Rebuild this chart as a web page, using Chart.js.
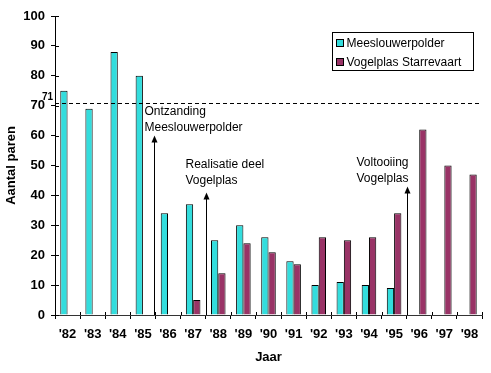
<!DOCTYPE html>
<html>
<head>
<meta charset="utf-8">
<script src="https://cdn.jsdelivr.net/npm/chart.js@4"></script>
<style>
  html, body { margin: 0; padding: 0; background: #fff; }
  #wrap { width: 491px; height: 373px; }
</style>
</head>
<body>
<div id="wrap"><canvas id="c" width="491" height="373"></canvas></div>
<script>
// ---- data ----
const years = ["'82","'83","'84","'85","'86","'87","'88","'89","'90","'91","'92","'93","'94","'95","'96","'97","'98"];
const meeslouwerpolder = [75, 69, 88, 80, 34, 37, 25, 30, 26, 18, 10, 11, 10, 9, null, null, null];
const vogelplas = [null, null, null, null, null, 5, 14, 24, 21, 17, 26, 25, 26, 34, 62, 50, 47];
const seriesNames = ['Meeslouwerpolder', 'Vogelplas Starrevaart'];
const yTicks = [0, 10, 20, 30, 40, 50, 60, 70, 80, 90, 100];
const refValue = 71;
const annotationText = [['Ontzanding', 'Meeslouwerpolder'], ['Realisatie deel', 'Vogelplas'], ['Voltooiing', 'Vogelplas']];
const arrowAt = [3.45, 5.5, 13.5];     // category position (between years)
const arrowTip = [60, 41, 43];         // value where arrow ends
const textAt = [67, 49, 50];           // value of first text baseline

const FONT = "'Liberation Sans', Arial, sans-serif";
const CYAN = '#33DDDD';
const PURPLE = '#993366';

const textDX = [-10, -21, -51];

const extras = {
  id: 'extras',
  afterDraw(chart) {
    const ctx = chart.ctx;
    const x = chart.scales.x, y = chart.scales.y;
    const ca = chart.chartArea;
    ctx.save();
    // inner halves of crossing ticks
    ctx.strokeStyle = '#000';
    ctx.lineWidth = 1;
    ctx.beginPath();
    yTicks.forEach(v => {
      const py = Math.round(y.getPixelForValue(v)) + 0.5;
      ctx.moveTo(ca.left, py); ctx.lineTo(ca.left + 4, py);
    });
    for (let i = 0; i <= years.length; i++) {
      const px = Math.round(x.getPixelForValue(i - 0.5)) + 0.5;
      ctx.moveTo(px, ca.bottom); ctx.lineTo(px, ca.bottom - 3);
    }
    ctx.stroke();

    // reference line
    const ry = Math.round(y.getPixelForValue(refValue)) + 0.5;
    ctx.setLineDash([4, 3]);
    ctx.beginPath();
    ctx.moveTo(ca.left, ry); ctx.lineTo(ca.right, ry);
    ctx.stroke();
    ctx.setLineDash([]);
    ctx.fillStyle = '#000';
    ctx.font = 'bold 10px ' + FONT;
    ctx.textAlign = 'right';
    ctx.textBaseline = 'alphabetic';
    ctx.fillText(String(refValue), ca.left - 2, ry - 4);

    // arrows + annotation texts
    ctx.font = '12px ' + FONT;
    ctx.textAlign = 'left';
    for (let i = 0; i < arrowAt.length; i++) {
      const ax = Math.round(x.getPixelForValue(arrowAt[i])) + 0.5;
      const top = y.getPixelForValue(arrowTip[i]);
      ctx.beginPath();
      ctx.moveTo(ax, ca.bottom); ctx.lineTo(ax, top + 5);
      ctx.stroke();
      ctx.beginPath();
      ctx.moveTo(ax, top); ctx.lineTo(ax - 3, top + 7); ctx.lineTo(ax + 3, top + 7); ctx.closePath();
      ctx.fill();
      const ty = y.getPixelForValue(textAt[i]);
      annotationText[i].forEach((line, k) => {
        ctx.fillText(line, ax + textDX[i], ty + k * 16);
      });
    }

    // legend box
    const bx = 332.5, by = 32.5, bw = 141, bh = 38;
    ctx.strokeStyle = '#000';
    ctx.strokeRect(bx, by, bw, bh);
    chart.data.datasets.forEach((ds, k) => {
      const cy = by + 11 + k * 19;
      ctx.fillStyle = ds.backgroundColor;
      ctx.fillRect(bx + 4, cy - 4, 7, 7);
      ctx.strokeRect(bx + 4, cy - 4, 7, 7);
      ctx.fillStyle = '#000';
      ctx.font = '12px ' + FONT;
      ctx.textBaseline = 'middle';
      ctx.fillText(ds.label, bx + 14, cy);
    });
    ctx.restore();
  }
};

new Chart(document.getElementById('c'), {
  type: 'bar',
  data: {
    labels: years,
    datasets: [
      { label: seriesNames[0], data: meeslouwerpolder, backgroundColor: CYAN, borderColor: '#000', borderWidth: 1 },
      { label: seriesNames[1], data: vogelplas, backgroundColor: PURPLE, borderColor: '#000', borderWidth: 1 }
    ]
  },
  options: {
    responsive: false,
    animation: false,
    devicePixelRatio: 1,
    layout: { padding: { top: 16, right: 9, left: 0, bottom: 0 } },
    datasets: { bar: { categoryPercentage: 0.58, barPercentage: 1.0 } },
    plugins: { legend: { display: false }, tooltip: { enabled: false } },
    scales: {
      x: {
        afterFit(s) { s.height = 58; },
        grid: { drawOnChartArea: false, drawTicks: true, tickLength: 4, color: '#000', offset: true },
        border: { display: true, color: '#333' },
        ticks: { color: '#000', font: { family: FONT, size: 13, weight: 'bold' }, padding: 8, maxRotation: 0 },
        title: { display: true, text: 'Jaar', color: '#000', font: { family: FONT, size: 13, weight: 'bold' }, padding: { top: 0, bottom: 8 } }
      },
      y: {
        min: 0, max: 100,
        afterFit(s) { s.width = 55; },
        afterBuildTicks(s) { s.ticks = yTicks.map(v => ({ value: v })); },
        grid: { drawOnChartArea: false, drawTicks: true, tickLength: 4, color: '#000' },
        border: { display: true, color: '#000' },
        ticks: { color: '#000', font: { family: FONT, size: 13, weight: 'bold' }, padding: 6 },
        title: { display: true, text: 'Aantal paren', color: '#000', font: { family: FONT, size: 13, weight: 'bold' }, padding: 4 }
      }
    }
  },
  plugins: [extras]
});
</script>
</body>
</html>
